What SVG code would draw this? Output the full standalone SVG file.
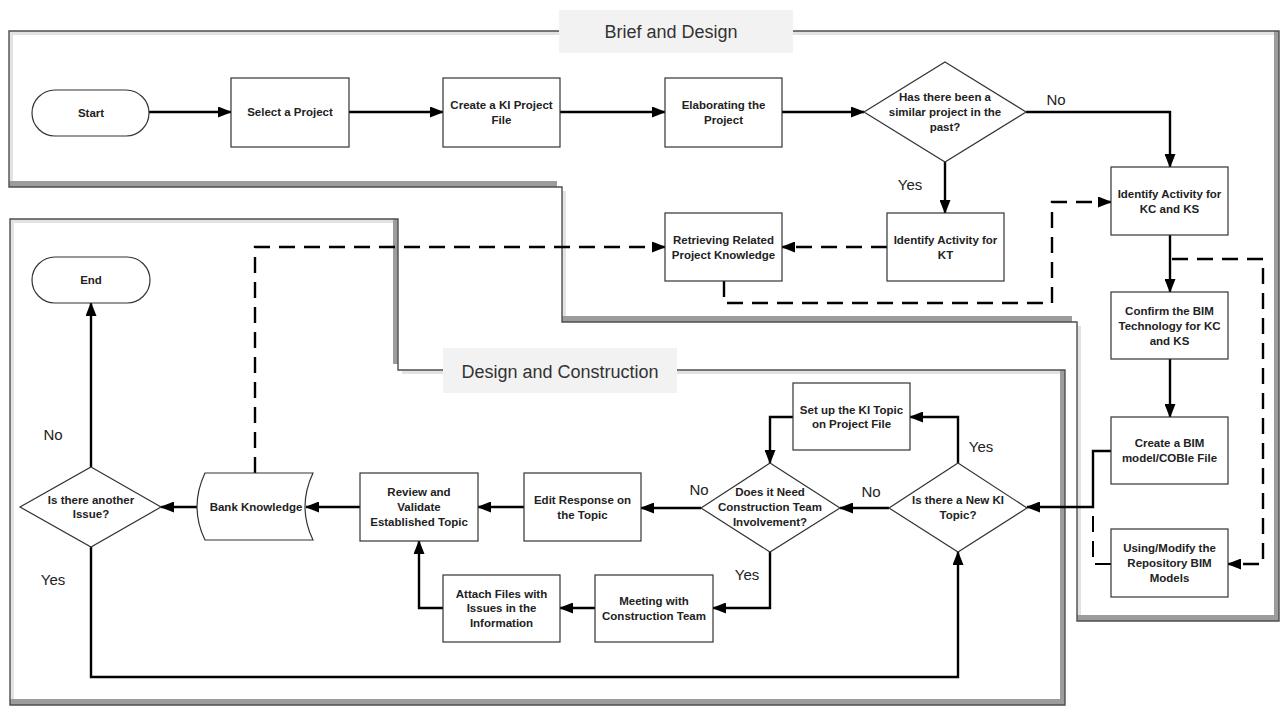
<svg xmlns="http://www.w3.org/2000/svg" width="1284" height="707" viewBox="0 0 1284 707">
<defs>
<style>
.box{fill:#fff;stroke:#333;stroke-width:1.2}
.t{font-family:"Liberation Sans",Arial,sans-serif;font-weight:bold;font-size:11.5px;fill:#222;text-anchor:middle}
.lbl{font-family:"Liberation Sans",Arial,sans-serif;font-size:15px;fill:#222;text-anchor:middle}
.sec{font-family:"Liberation Sans",Arial,sans-serif;font-size:18px;fill:#333;text-anchor:middle}
.secbox{fill:#f2f2f2}
.c{fill:none;stroke:#000;stroke-width:2.4}
.d{stroke-dasharray:16 9}
.a{marker-end:url(#ah)}
.outline{fill:none;stroke:#4d4d4d;stroke-width:1.4}
</style>
<marker id="ah" viewBox="0 0 14 11" refX="13" refY="5.5" markerWidth="14" markerHeight="11" markerUnits="userSpaceOnUse" orient="auto"><path d="M0,0 L14,5.5 L0,11 z" fill="#000"/></marker>
<clipPath id="c1"><polygon points="9,31 1279,31 1279,621 1077,621 1077,322 562,322 562,187 9,187"/></clipPath>
<clipPath id="c1s"><polygon transform="translate(-5,-6)" points="9,31 1279,31 1279,621 1077,621 1077,322 562,322 562,187 9,187"/></clipPath>
<clipPath id="c2"><polygon points="10,219 398,219 398,370 1065,370 1065,705 10,705"/></clipPath>
<clipPath id="c2s"><polygon transform="translate(-5,-6)" points="10,219 398,219 398,370 1065,370 1065,705 10,705"/></clipPath>
</defs>

<g id="container-brief">
<g clip-path="url(#c1)">
<polygon points="9,31 1279,31 1279,621 1077,621 1077,322 562,322 562,187 9,187" fill="#9c9c9c"/>
<polygon transform="translate(-5,-6)" points="9,31 1279,31 1279,621 1077,621 1077,322 562,322 562,187 9,187" fill="#e2e2e2"/>
<g clip-path="url(#c1s)"><polygon transform="translate(4,4)" points="9,31 1279,31 1279,621 1077,621 1077,322 562,322 562,187 9,187" fill="#fff"/></g>
</g>
<polygon class="outline" points="9,31 1279,31 1279,621 1077,621 1077,322 562,322 562,187 9,187"/>
<rect class="secbox" x="559" y="10" width="234" height="43"/>
<text class="sec" x="671" y="38">Brief and Design</text>
</g>

<g id="container-design">
<g clip-path="url(#c2)">
<polygon points="10,219 398,219 398,370 1065,370 1065,705 10,705" fill="#9c9c9c"/>
<polygon transform="translate(-5,-6)" points="10,219 398,219 398,370 1065,370 1065,705 10,705" fill="#e2e2e2"/>
<g clip-path="url(#c2s)"><polygon transform="translate(4,4)" points="10,219 398,219 398,370 1065,370 1065,705 10,705" fill="#fff"/></g>
</g>
<polygon class="outline" points="10,219 398,219 398,370 1065,370 1065,705 10,705"/>
<rect class="secbox" x="443" y="348" width="234" height="45"/>
<text class="sec" x="560" y="378">Design and Construction</text>
</g>

<g id="connectors">
<path class="c a" d="M149,112 H231"/>
<path class="c a" d="M349,112 H443"/>
<path class="c a" d="M560,112 H665"/>
<path class="c a" d="M782,112 H864"/>
<path class="c a" d="M1026,112 H1170 V167"/>
<path class="c a" d="M945,162 V213"/>
<path class="c d a" d="M887,247 H782"/>
<path class="c d a" d="M724,281 V303 H1052 V202 H1111"/>
<path class="c d a" d="M255,473 V247 H665"/>
<path class="c a" d="M1170,235 V292"/>
<path class="c d a" d="M1172,259 H1263 V564 H1228"/>
<path class="c a" d="M1170,359 V417"/>
<path class="c a" d="M1111,451 H1093 V507 H1027"/>
<path class="c d" style="stroke-width:2" d="M1111,564 H1093 V507"/>
<path class="c a" d="M889,508 H840"/>
<path class="c a" d="M958,463 V417 H910"/>
<path class="c a" d="M793,417 H770 V463"/>
<path class="c a" d="M701,508 H641"/>
<path class="c a" d="M770,552 V608 H713"/>
<path class="c a" d="M595,608 H560"/>
<path class="c a" d="M443,608 H419 V541"/>
<path class="c a" d="M524,507 H478"/>
<path class="c a" d="M360,507 H306"/>
<path class="c a" d="M198,507 H161"/>
<path class="c a" d="M91,467 V303"/>
<path class="c a" d="M91,547 V677 H958 V552"/>
<text class="lbl" x="1056" y="105">No</text>
<text class="lbl" x="910" y="190">Yes</text>
<text class="lbl" x="53" y="440">No</text>
<text class="lbl" x="53" y="585">Yes</text>
<text class="lbl" x="981" y="452">Yes</text>
<text class="lbl" x="871" y="497">No</text>
<text class="lbl" x="699" y="495">No</text>
<text class="lbl" x="747" y="580">Yes</text>
</g>

<g id="start"><rect class="box" x="32" y="90" width="117" height="46" rx="23"/><text class="t" x="91" y="117">Start</text></g>
<g id="select-project"><rect class="box" x="231" y="78" width="118" height="69"/><text class="t" x="290" y="116">Select a Project</text></g>
<g id="create-ki-file"><rect class="box" x="443" y="78" width="117" height="69"/><text class="t" x="501.5" y="108.5">Create a KI Project</text><text class="t" x="501.5" y="123.5">File</text></g>
<g id="elaborating"><rect class="box" x="665" y="78" width="117" height="69"/><text class="t" x="723.5" y="108.5">Elaborating the</text><text class="t" x="723.5" y="123.5">Project</text></g>
<g id="similar-project"><polygon class="box" points="945,62 1026,112 945,162 864,112"/><text class="t" x="945" y="101">Has there been a</text><text class="t" x="945" y="116">similar project in the</text><text class="t" x="945" y="131">past?</text></g>
<g id="identify-kc-ks"><rect class="box" x="1111" y="167" width="117" height="68"/><text class="t" x="1169.5" y="198">Identify Activity for</text><text class="t" x="1169.5" y="213">KC and KS</text></g>
<g id="identify-kt"><rect class="box" x="887" y="213" width="117" height="68"/><text class="t" x="945.5" y="243.5">Identify Activity for</text><text class="t" x="945.5" y="258.5">KT</text></g>
<g id="retrieving"><rect class="box" x="665" y="213" width="117" height="68"/><text class="t" x="723.5" y="243.5">Retrieving Related</text><text class="t" x="723.5" y="258.5">Project Knowledge</text></g>
<g id="confirm-bim"><rect class="box" x="1111" y="292" width="117" height="67"/><text class="t" x="1169.5" y="315">Confirm the BIM</text><text class="t" x="1169.5" y="330">Technology for KC</text><text class="t" x="1169.5" y="345">and KS</text></g>
<g id="create-bim"><rect class="box" x="1111" y="417" width="117" height="67"/><text class="t" x="1169.5" y="447">Create a BIM</text><text class="t" x="1169.5" y="462">model/COBIe File</text></g>
<g id="using-modify"><rect class="box" x="1111" y="529" width="117" height="68"/><text class="t" x="1169.5" y="552">Using/Modify the</text><text class="t" x="1169.5" y="567">Repository BIM</text><text class="t" x="1169.5" y="582">Models</text></g>
<g id="new-ki-topic"><polygon class="box" points="958,463 1027,508 958,552 889,508"/><text class="t" x="958" y="504">Is there a New KI</text><text class="t" x="958" y="519">Topic?</text></g>
<g id="setup-ki-topic"><rect class="box" x="793" y="383" width="117" height="67"/><text class="t" x="851.5" y="414">Set up the KI Topic</text><text class="t" x="851.5" y="428">on Project File</text></g>
<g id="need-construction"><polygon class="box" points="770,463 840,508 770,552 701,508"/><text class="t" x="770" y="496">Does it Need</text><text class="t" x="770" y="511">Construction Team</text><text class="t" x="770" y="526">Involvement?</text></g>
<g id="edit-response"><rect class="box" x="524" y="473" width="117" height="68"/><text class="t" x="582.5" y="504">Edit Response on</text><text class="t" x="582.5" y="519">the Topic</text></g>
<g id="review-validate"><rect class="box" x="360" y="473" width="118" height="68"/><text class="t" x="419" y="496">Review and</text><text class="t" x="419" y="511">Validate</text><text class="t" x="419" y="526">Established Topic</text></g>
<g id="bank-knowledge"><path class="box" d="M205,473 H313 Q297,507 313,540 H205 Q189,507 205,473 Z"/><text class="t" x="256" y="511">Bank Knowledge</text></g>
<g id="another-issue"><polygon class="box" points="91,467 161,507 91,547 20,507"/><text class="t" x="91" y="504">Is there another</text><text class="t" x="91" y="518">Issue?</text></g>
<g id="meeting"><rect class="box" x="595" y="575" width="118" height="67"/><text class="t" x="654" y="605">Meeting with</text><text class="t" x="654" y="620">Construction Team</text></g>
<g id="attach-files"><rect class="box" x="443" y="575" width="117" height="67"/><text class="t" x="501.5" y="598">Attach Files with</text><text class="t" x="501.5" y="612">Issues in the</text><text class="t" x="501.5" y="627">Information</text></g>
<g id="end"><rect class="box" x="32" y="257" width="118" height="46" rx="23"/><text class="t" x="91" y="284">End</text></g>
</svg>
